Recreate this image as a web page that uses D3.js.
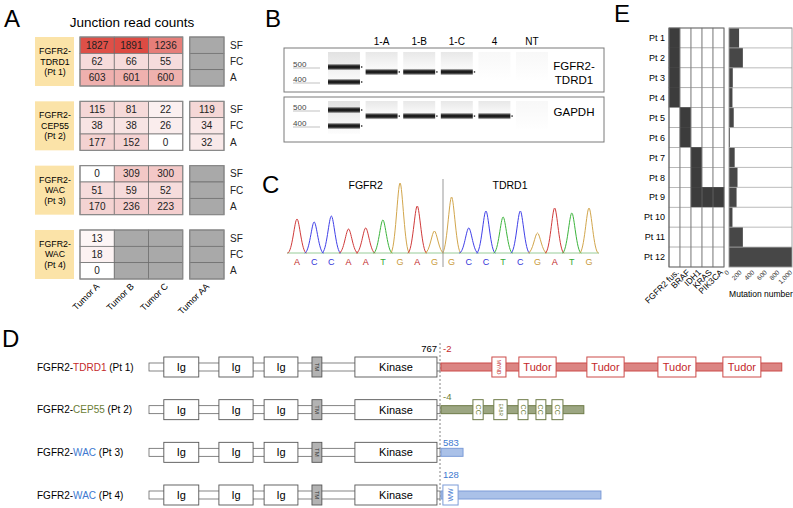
<!DOCTYPE html>
<html>
<head>
<meta charset="utf-8">
<script src="https://cdn.jsdelivr.net/npm/d3@7"></script>
<style>
  body { margin: 0; background: #fff; }
  svg text { font-family: 'Liberation Sans', Arial, sans-serif; }
</style>
</head>
<body>
<div id="figure"></div>
<script>
// ---- A: junction read counts ----
var tumors = ['Tumor A', 'Tumor B', 'Tumor C', 'Tumor AA'];
var readTypes = ['SF', 'FC', 'A'];
var fusionLabels = [
    ['FGFR2-', 'TDRD1', '(Pt 1)'],
    ['FGFR2-', 'CEP55', '(Pt 2)'],
    ['FGFR2-', 'WAC', '(Pt 3)'],
    ['FGFR2-', 'WAC', '(Pt 4)']
];
// null = no data (grey cell)
var readCounts = [
    [[1827, 1891, 1236, null], [62, 66, 55, null], [603, 601, 600, null]],
    [[115, 81, 22, 119], [38, 38, 26, 34], [177, 152, 0, 32]],
    [[0, 309, 300, null], [51, 59, 52, null], [170, 236, 223, null]],
    [[13, null, null, null], [18, null, null, null], [0, null, null, null]]
];

// ---- B: RT-PCR gel ----
var gelLanes = ['ladder', '1-A', '1-B', '1-C', '4', 'NT'];
var ladderSizes = [500, 400];
var gelTargets = [['FGFR2-', 'TDRD1'], ['GAPDH']];
var fusionBands = [467, 467, 467, null, null];   // bp, per sample lane
var gapdhBands = [462, 462, 462, 462, null];

// ---- C: chromatogram ----
var bases = ['A', 'C', 'C', 'A', 'A', 'T', 'G', 'A', 'G', 'G', 'C', 'C', 'T', 'C', 'G', 'A', 'T', 'G'];
var peakHeights = [34, 31, 37, 24, 25, 33, 70, 47, 22, 56, 25, 42, 36, 42, 20, 45, 40, 45];
var junctionAfter = 8;   // last FGFR2 base index

// ---- D: fusion proteins (residue coordinates) ----
var fgfr2Domains = [
    { name: 'Ig', start: 40, end: 132 },
    { name: 'Ig', start: 185, end: 275 },
    { name: 'Ig', start: 304, end: 393 },
    { name: 'TM', start: 430, end: 456 },
    { name: 'Kinase', start: 543, end: 759 }
];
var fgfr2Break = 767;
var partnerNames = ['TDRD1', 'CEP55', 'WAC', 'WAC'];
var partnerPatients = ['(Pt 1)', '(Pt 2)', '(Pt 3)', '(Pt 4)'];
var partnerJunctions = ['-2', '-4', '583', '128'];
var partnerLengths = [897, 376, 58, 421];   // residues kept after the junction
var tdrd1Domains = [
    { name: 'MYND', start: 134, end: 171 },
    { name: 'Tudor', start: 205, end: 303 },
    { name: 'Tudor', start: 384, end: 482 },
    { name: 'Tudor', start: 571, end: 671 },
    { name: 'Tudor', start: 742, end: 842 }
];
var cep55Domains = [
    { name: 'CC', start: 84, end: 111 },
    { name: 'EABR', start: 139, end: 174 },
    { name: 'CC', start: 203, end: 229 },
    { name: 'CC', start: 250, end: 276 },
    { name: 'CC', start: 292, end: 321 }
];
var wacPt3Domains = [];
var wacPt4Domains = [{ name: 'WW', start: 5, end: 45 }];

// ---- E: mutations ----
var patients = ['Pt 1', 'Pt 2', 'Pt 3', 'Pt 4', 'Pt 5', 'Pt 6', 'Pt 7', 'Pt 8', 'Pt 9', 'Pt 10', 'Pt 11', 'Pt 12'];
var genes = ['FGFR2 fus.', 'BRAF', 'IDH1', 'KRAS', 'PIK3CA'];
var mutationMatrix = [
    [1, 0, 0, 0, 0], [1, 0, 0, 0, 0], [1, 0, 0, 0, 0], [1, 0, 0, 0, 0],
    [0, 1, 0, 0, 0], [0, 1, 0, 0, 0],
    [0, 0, 1, 0, 0], [0, 0, 1, 0, 0], [0, 0, 1, 1, 1],
    [0, 0, 0, 0, 0], [0, 0, 0, 0, 0], [0, 0, 0, 0, 0]
];
var mutationNumbers = [160, 220, 60, 55, 75, 15, 90, 135, 120, 55, 220, 1000];
var mutationTicks = [0, 200, 400, 600, 800, 1000];

var svg = d3.select('#figure').append('svg')
    .attr('width', 793)
    .attr('height', 508);
var defs = svg.append('defs');

function panelLetter (letter, x, y) {
    svg.append('text')
        .attr('x', x).attr('y', y)
        .style('font-size', '24px')
        .text(letter);
}

function drawPanelA () {
    var g = svg.append('g');
    var colX = d3.scaleBand().domain(tumors).range([80, 217]);
    var cx = function (t) { return colX(t) + (t === 'Tumor AA' ? 7 : 0); };
    var groupY = d3.scaleBand().domain(d3.range(readCounts.length))
        .range([37, 279]).paddingInner(0.238);
    var rowY = d3.scaleBand().domain(readTypes).range([0, groupY.bandwidth()]);
    var color = d3.scaleLinear().domain([0, 50, 1900])
        .range(['#ffffff', '#f6dcdc', '#dd4a42']);

    g.append('text')
        .attr('x', 132).attr('y', 27)
        .attr('text-anchor', 'middle')
        .style('font-size', '13.5px')
        .text('Junction read counts');

    readCounts.forEach(function (group, gi) {
        var gg = g.append('g').attr('transform', 'translate(0,' + groupY(gi) + ')');

        gg.append('rect')
            .attr('x', 35).attr('y', 0)
            .attr('width', 39).attr('height', groupY.bandwidth())
            .style('fill', '#fbe3a8');
        gg.selectAll('text.flabel').data(fusionLabels[gi]).enter().append('text')
            .attr('class', 'flabel')
            .attr('x', 55)
            .attr('y', function (d, i) { return 17 + i * 10.5; })
            .attr('text-anchor', 'middle')
            .style('font-size', '8.8px')
            .text(function (d) { return d; });

        group.forEach(function (row, ri) {
            row.forEach(function (v, ci) {
                var t = tumors[ci];
                gg.append('rect')
                    .attr('x', cx(t)).attr('y', rowY(readTypes[ri]))
                    .attr('width', colX.bandwidth()).attr('height', rowY.bandwidth())
                    .style('fill', v === null ? '#a9a9a9' : color(v))
                    .style('stroke', '#6a6a6a')
                    .style('stroke-width', 0.7);
                if (v !== null) {
                    gg.append('text')
                        .attr('x', cx(t) + colX.bandwidth() / 2)
                        .attr('y', rowY(readTypes[ri]) + rowY.bandwidth() / 2 + 3.6)
                        .attr('text-anchor', 'middle')
                        .style('font-size', '10px')
                        .style('fill', '#222')
                        .text(v);
                }
            });
            gg.append('text')
                .attr('x', 230)
                .attr('y', rowY(readTypes[ri]) + rowY.bandwidth() / 2 + 3.6)
                .style('font-size', '10px')
                .style('fill', '#222')
                .text(readTypes[ri]);
        });

        gg.append('rect')
            .attr('x', cx('Tumor A')).attr('y', 0)
            .attr('width', colX.bandwidth() * 3).attr('height', groupY.bandwidth())
            .style('fill', 'none').style('stroke', '#8a8a8a').style('stroke-width', 1.2);
        gg.append('rect')
            .attr('x', cx('Tumor AA')).attr('y', 0)
            .attr('width', colX.bandwidth()).attr('height', groupY.bandwidth())
            .style('fill', 'none').style('stroke', '#8a8a8a').style('stroke-width', 1.2);
    });

    g.selectAll('text.tumor').data(tumors).enter().append('text')
        .attr('class', 'tumor')
        .attr('transform', function (t) {
            return 'translate(' + (cx(t) + colX.bandwidth() / 2 + 3) + ',287) rotate(-45)';
        })
        .attr('text-anchor', 'end')
        .style('font-size', '9px')
        .text(function (t) { return t; });
}

function drawPanelB () {
    var g = svg.append('g');
    var lane = d3.scaleBand().domain(gelLanes).range([328, 548]).paddingInner(0.15);
    var gels = [
        { top: 48, bottom: 92, labelY: 70, y: d3.scaleLinear().domain([400, 500]).range([82, 67]), bands: fusionBands },
        { top: 97, bottom: 142, labelY: 115.5, y: d3.scaleLinear().domain([400, 500]).range([126, 110]), bands: gapdhBands }
    ];

    var bandGrad = defs.append('linearGradient').attr('id', 'band')
        .attr('x1', 0).attr('y1', 0).attr('x2', 0).attr('y2', 1);
    bandGrad.append('stop').attr('offset', '0%').attr('stop-color', '#000').attr('stop-opacity', 0);
    bandGrad.append('stop').attr('offset', '35%').attr('stop-color', '#111').attr('stop-opacity', 0.95);
    bandGrad.append('stop').attr('offset', '65%').attr('stop-color', '#111').attr('stop-opacity', 0.95);
    bandGrad.append('stop').attr('offset', '100%').attr('stop-color', '#000').attr('stop-opacity', 0);

    var laneGrad = defs.append('linearGradient').attr('id', 'lanebg')
        .attr('x1', 0).attr('y1', 0).attr('x2', 0).attr('y2', 1);
    laneGrad.append('stop').attr('offset', '0%').attr('stop-color', '#e2e2e2');
    laneGrad.append('stop').attr('offset', '100%').attr('stop-color', '#fdfdfd');

    g.selectAll('text.lane').data(gelLanes.slice(1)).enter().append('text')
        .attr('class', 'lane')
        .attr('x', function (d) { return lane(d) + lane.bandwidth() / 2; })
        .attr('y', 45)
        .attr('text-anchor', 'middle')
        .style('font-size', '10px')
        .text(function (d) { return d; });

    gels.forEach(function (gel, gi) {
        var gg = g.append('g');
        gg.append('rect')
            .attr('x', 284).attr('y', gel.top)
            .attr('width', 320).attr('height', gel.bottom - gel.top)
            .style('fill', '#fff').style('stroke', '#7a7a7a').style('stroke-width', 1);

        // ladder lane
        gg.append('rect')
            .attr('x', lane('ladder')).attr('y', gel.top + 4)
            .attr('width', lane.bandwidth()).attr('height', gel.bottom - gel.top - 12)
            .style('fill', 'url(#lanebg)');
        ladderSizes.forEach(function (s) {
            gg.append('rect')
                .attr('x', lane('ladder')).attr('y', gel.y(s) - 3.5)
                .attr('width', lane.bandwidth()).attr('height', 7)
                .style('fill', 'url(#band)');
            gg.append('rect')
                .attr('x', lane('ladder') + lane.bandwidth() + 1).attr('y', gel.y(s) - 0.7)
                .attr('width', 1.4).attr('height', 1.4)
                .style('fill', '#222');
            gg.append('text')
                .attr('x', 293).attr('y', gel.y(s) - 0.5)
                .style('font-size', '8px')
                .style('fill', '#444')
                .text(s);
            gg.append('line')
                .attr('x1', 293).attr('x2', 320)
                .attr('y1', gel.y(s) + 1).attr('y2', gel.y(s) + 1)
                .style('stroke', '#999').style('stroke-width', 0.6);
        });

        gelLanes.slice(1).forEach(function (l, li) {
            var size = gel.bands[li];
            gg.append('rect')
                .attr('x', lane(l)).attr('y', gel.top + 4)
                .attr('width', lane.bandwidth())
                .attr('height', size === null ? 28 : gel.y(size) - gel.top - 4)
                .style('fill', 'url(#lanebg)')
                .style('opacity', size === null ? 0.25 : 0.8);
            if (size !== null) {
                gg.append('rect')
                    .attr('x', lane(l)).attr('y', gel.y(size) - 3.5)
                    .attr('width', lane.bandwidth()).attr('height', 7)
                    .style('fill', 'url(#band)');
                gg.append('rect')
                    .attr('x', lane(l) + lane.bandwidth() + 1).attr('y', gel.y(size) - 0.7)
                    .attr('width', 1.4).attr('height', 1.4)
                    .style('fill', '#222');
            }
        });

        gg.selectAll('text.target').data(gelTargets[gi]).enter().append('text')
            .attr('class', 'target')
            .attr('x', 574)
            .attr('y', function (d, i) { return gel.labelY + i * 13.5; })
            .attr('text-anchor', 'middle')
            .style('font-size', '11.5px')
            .text(function (d) { return d; });
    });
}

function drawPanelC () {
    var g = svg.append('g');
    var baseColors = { A: '#d03a3a', C: '#4040e8', G: '#d2a64c', T: '#3cb43c' };
    var letterColors = { A: '#c02626', C: '#3434d8', G: '#c99a3a', T: '#34a834' };
    var x = d3.scaleLinear().domain([0, bases.length - 1]).range([297, 589]);
    var y = d3.scaleLinear().domain([0, 70]).range([253, 183]);
    var w = 9.5;

    function peakPath (px, y0, y1) {
        return 'M' + (px - w) + ',' + y0 +
            'C' + (px - w * 0.5) + ',' + y0 + ' ' + (px - w * 0.25) + ',' + y1 + ' ' + px + ',' + y1 +
            'C' + (px + w * 0.25) + ',' + y1 + ' ' + (px + w * 0.5) + ',' + y0 + ' ' + (px + w) + ',' + y0;
    }

    g.append('line')
        .attr('x1', x(0) - 10).attr('x2', x(bases.length - 1) + 10)
        .attr('y1', y(0)).attr('y2', y(0))
        .style('stroke', '#7fbf7f').style('stroke-width', 0.8);

    g.selectAll('path.peak').data(bases).enter().append('path')
        .attr('class', 'peak')
        .attr('d', function (b, i) { return peakPath(x(i), y(0), y(peakHeights[i])); })
        .style('fill', 'none')
        .style('stroke', function (b) { return baseColors[b]; })
        .style('stroke-width', 1);

    g.selectAll('text.base').data(bases).enter().append('text')
        .attr('class', 'base')
        .attr('x', function (b, i) { return x(i); })
        .attr('y', 264.5)
        .attr('text-anchor', 'middle')
        .style('font-size', '9px')
        .style('fill', function (b) { return letterColors[b]; })
        .text(function (b) { return b; });

    var jx = x(junctionAfter + 0.5);
    g.append('line')
        .attr('x1', jx).attr('x2', jx)
        .attr('y1', 179).attr('y2', 267)
        .style('stroke', '#999').style('stroke-width', 1);

    g.append('text')
        .attr('x', x(junctionAfter / 2)).attr('y', 189)
        .attr('text-anchor', 'middle')
        .style('font-size', '10.5px')
        .text('FGFR2');
    g.append('text')
        .attr('x', x(junctionAfter + 4.4)).attr('y', 189)
        .attr('text-anchor', 'middle')
        .style('font-size', '10.5px')
        .text('TDRD1');
}

function drawPanelD () {
    var g = svg.append('g');
    var rows = d3.scalePoint().domain(d3.range(partnerNames.length)).range([367, 495]);
    var x = d3.scaleLinear().domain([1, fgfr2Break]).range([149, 440]);
    var k = (x(fgfr2Break) - x(1)) / (fgfr2Break - 1);
    var px = d3.scaleLinear().domain([0, 100]).range([441, 441 + 100 * k]);
    var partnerDomains = [tdrd1Domains, cep55Domains, wacPt3Domains, wacPt4Domains];
    var partnerText = ['#c4282a', '#6b7d35', '#4079d0', '#4079d0'];
    var partnerFill = ['#db8583', '#9ca682', '#aac1e8', '#aac1e8'];
    var partnerStroke = ['#cc4a48', '#6e7b48', '#7c9cd8', '#7c9cd8'];
    var labelDy = [-15, -10, -6, -17];

    var bx = x(fgfr2Break);
    g.append('line')
        .attr('x1', bx).attr('x2', bx)
        .attr('y1', 343).attr('y2', 505)
        .style('stroke', '#666').style('stroke-width', 0.8)
        .style('stroke-dasharray', '2,2');

    partnerNames.forEach(function (name, ri) {
        var cy = rows(ri);
        var rg = g.append('g');

        var label = rg.append('text')
            .attr('x', 37).attr('y', cy + 3.6)
            .style('font-size', '10px');
        label.append('tspan').text('FGFR2-');
        label.append('tspan').style('fill', partnerText[ri]).text(name);
        label.append('tspan').text(' ' + partnerPatients[ri]);

        // FGFR2 backbone
        rg.append('rect')
            .attr('x', x(1)).attr('y', cy - 4)
            .attr('width', x(fgfr2Break) - x(1)).attr('height', 8)
            .style('fill', '#fff').style('stroke', '#666').style('stroke-width', 0.8);

        fgfr2Domains.forEach(function (d) {
            var isTM = d.name === 'TM';
            rg.append('rect')
                .attr('x', x(d.start)).attr('y', cy - 10)
                .attr('width', x(d.end) - x(d.start)).attr('height', 20)
                .style('fill', isTM ? '#b3b3b3' : '#fff')
                .style('stroke', '#555').style('stroke-width', 0.9);
            var cxm = (x(d.start) + x(d.end)) / 2;
            if (isTM) {
                rg.append('text')
                    .attr('transform', 'translate(' + (cxm - 2) + ',' + cy + ') rotate(90)')
                    .attr('text-anchor', 'middle')
                    .style('font-size', '6px')
                    .style('fill', '#333')
                    .text(d.name);
            } else {
                rg.append('text')
                    .attr('x', cxm).attr('y', cy + 4)
                    .attr('text-anchor', 'middle')
                    .style('font-size', '11px')
                    .text(d.name);
            }
        });

        // partner part
        rg.append('rect')
            .attr('x', px(0)).attr('y', cy - 4)
            .attr('width', px(partnerLengths[ri]) - px(0)).attr('height', 8)
            .style('fill', partnerFill[ri]).style('stroke', partnerStroke[ri]).style('stroke-width', 1);

        partnerDomains[ri].forEach(function (d) {
            var x0 = px(d.start), x1 = px(d.end);
            rg.append('rect')
                .attr('x', x0).attr('y', cy - 10)
                .attr('width', x1 - x0).attr('height', 20)
                .style('fill', '#fff').style('stroke', partnerStroke[ri]).style('stroke-width', 1);
            var mid = (x0 + x1) / 2;
            if (d.name === 'Tudor') {
                rg.append('text')
                    .attr('x', mid).attr('y', cy + 4)
                    .attr('text-anchor', 'middle')
                    .style('font-size', '11px')
                    .style('fill', partnerText[ri])
                    .text(d.name);
            } else {
                var fs = { MYND: 5, EABR: 4.5, CC: 7, WW: 7 }[d.name];
                var rot = d.name === 'WW' ? -90 : 90;
                rg.append('text')
                    .attr('transform', 'translate(' + (mid + (rot > 0 ? -fs * 0.35 : fs * 0.35)) + ',' + cy + ') rotate(' + rot + ')')
                    .attr('text-anchor', 'middle')
                    .style('font-size', fs + 'px')
                    .style('fill', partnerText[ri])
                    .text(d.name);
            }
        });

        rg.append('text')
            .attr('x', bx + 3).attr('y', cy + labelDy[ri])
            .style('font-size', '9.5px')
            .style('fill', partnerText[ri])
            .text(partnerJunctions[ri]);
    });

    g.append('text')
        .attr('x', bx - 3).attr('y', rows(0) - 15)
        .attr('text-anchor', 'end')
        .style('font-size', '9.5px')
        .text(fgfr2Break);
}

function drawPanelE () {
    var g = svg.append('g');
    var rowY = d3.scaleBand().domain(patients).range([28, 267]);
    var colX = d3.scaleBand().domain(genes).range([669, 724]);
    var barX = d3.scaleLinear().domain([0, 1000]).range([729, 792]);

    patients.forEach(function (p, pi) {
        genes.forEach(function (gname, gi) {
            g.append('rect')
                .attr('x', colX(gname)).attr('y', rowY(p))
                .attr('width', colX.bandwidth()).attr('height', rowY.bandwidth())
                .style('fill', mutationMatrix[pi][gi] ? '#3c3c3c' : '#fff')
                .style('stroke', mutationMatrix[pi][gi] ? '#3c3c3c' : '#9a9a9a')
                .style('stroke-width', 0.6);
        });
    });
    // column lines over the filled blocks
    genes.forEach(function (gname) {
        g.append('line')
            .attr('x1', colX(gname)).attr('x2', colX(gname))
            .attr('y1', 28).attr('y2', 267)
            .style('stroke', '#777').style('stroke-width', 0.6);
    });
    g.append('rect')
        .attr('x', 669).attr('y', 28).attr('width', 55).attr('height', 239)
        .style('fill', 'none').style('stroke', '#666').style('stroke-width', 0.9);

    g.selectAll('text.pt').data(patients).enter().append('text')
        .attr('class', 'pt')
        .attr('x', 665)
        .attr('y', function (p) { return rowY(p) + rowY.bandwidth() / 2 + 3.2; })
        .attr('text-anchor', 'end')
        .style('font-size', '9px')
        .text(function (p) { return p; });

    g.selectAll('text.gene').data(genes).enter().append('text')
        .attr('class', 'gene')
        .attr('transform', function (d) {
            return 'translate(' + (colX(d) + colX.bandwidth() / 2 + 5) + ',273) rotate(-45)';
        })
        .attr('text-anchor', 'end')
        .style('font-size', '8.5px')
        .text(function (d) { return d; });

    // mutation number bars
    g.selectAll('rect.bar').data(mutationNumbers).enter().append('rect')
        .attr('class', 'bar')
        .attr('x', barX(0))
        .attr('y', function (d, i) { return rowY(patients[i]); })
        .attr('width', function (d) { return barX(d) - barX(0); })
        .attr('height', rowY.bandwidth())
        .style('fill', '#474747');
    patients.forEach(function (p) {
        g.append('line')
            .attr('x1', barX(0)).attr('x2', barX(1000))
            .attr('y1', rowY(p)).attr('y2', rowY(p))
            .style('stroke', '#aaa').style('stroke-width', 0.8);
    });
    g.append('rect')
        .attr('x', barX(0)).attr('y', 28).attr('width', barX(1000) - barX(0)).attr('height', 239)
        .style('fill', 'none').style('stroke', '#999').style('stroke-width', 0.9);

    var axis = d3.axisBottom(barX).tickValues(mutationTicks).tickSize(0).tickPadding(0);
    var ag = g.append('g').attr('transform', 'translate(0,273)').call(axis);
    ag.select('.domain').remove();
    ag.selectAll('text')
        .attr('y', 0).attr('dy', 0)
        .attr('transform', 'rotate(-45)')
        .attr('text-anchor', 'end')
        .style('font-size', '6.5px')
        .style('font-family', "'Liberation Sans', Arial, sans-serif")
        .style('fill', '#333');

    g.append('text')
        .attr('x', 761).attr('y', 297)
        .attr('text-anchor', 'middle')
        .style('font-size', '8.5px')
        .text('Mutation number');
}

drawPanelA();
drawPanelB();
drawPanelC();
drawPanelD();
drawPanelE();

panelLetter('A', 4, 27);
panelLetter('B', 265, 27);
panelLetter('C', 262, 193);
panelLetter('D', 2, 347);
panelLetter('E', 614, 22);
</script>
</body>
</html>
